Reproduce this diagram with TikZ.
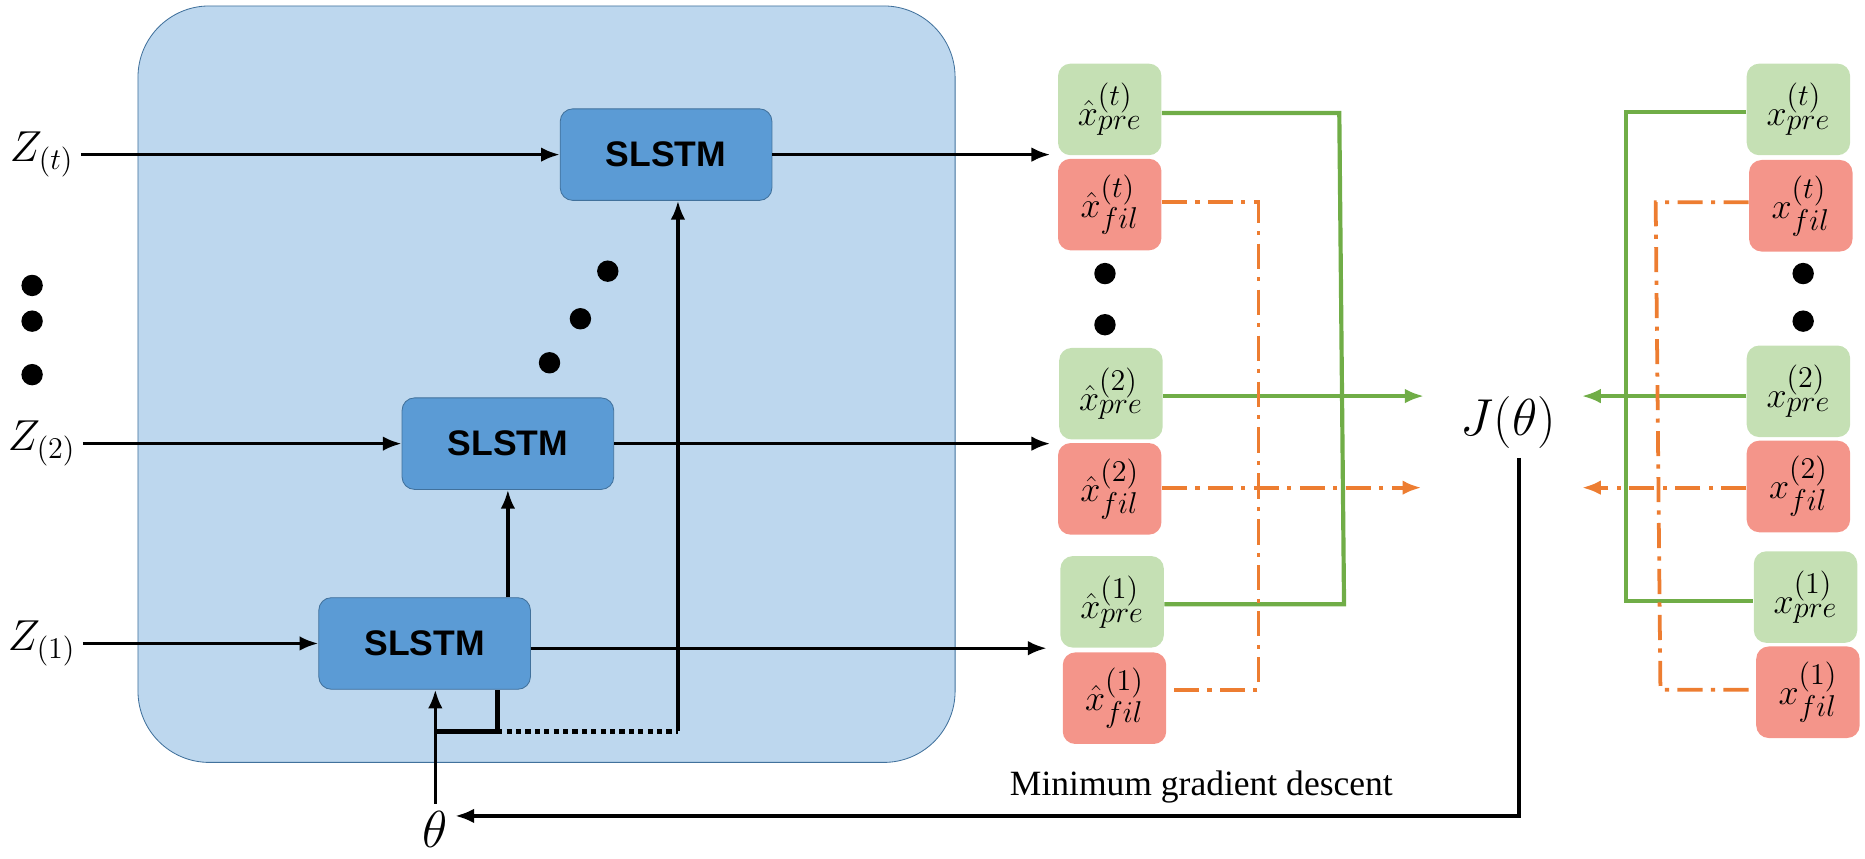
\documentclass[tikz,border=0pt]{standalone}
\usepackage{fontspec}
\newfontfamily\sansf{Liberation Sans}
\newfontfamily\seriff{Liberation Serif}
\usepackage{tikz}
\usetikzlibrary{arrows.meta}
\definecolor{boxfill}{HTML}{BDD7EE}
\definecolor{boxline}{HTML}{41719C}
\definecolor{cellfill}{HTML}{5B9BD5}
\definecolor{prefill}{HTML}{C5E0B4}
\definecolor{filfill}{HTML}{F4958A}
\definecolor{gline}{HTML}{70AD47}
\definecolor{oline}{HTML}{ED7D31}
\tikzset{
  cell/.style={draw=boxline,fill=cellfill,rounded corners=6pt,minimum width=3.56cm,minimum height=1.54cm,font=\sansf\fontsize{17}{20}\selectfont\bfseries},
  pre/.style={fill=prefill,rounded corners=6pt,minimum width=1.74cm,minimum height=1.54cm,inner sep=0pt,font=\fontsize{19}{22}\selectfont},
  fil/.style={pre,fill=filfill},
  lab/.style={font=\fontsize{20}{24}\selectfont},
  dot/.style={circle,fill=black,inner sep=0pt,minimum size=0.36cm},
  arr/.style={-{Latex[length=9pt,width=7pt]},line width=1.6pt},
  gr/.style={gline,line width=2pt},
  og/.style={oline,line width=1.8pt,dash pattern=on 12pt off 4pt on 2pt off 4pt},
}
\begin{document}
\begin{tikzpicture}[x=0.02cm,y=-0.02cm]
\useasboundingbox (0,0) rectangle (1568,722);
\draw[boxline,fill=boxfill,rounded corners=1.2cm] (116,5) rectangle (803,641);

% cells
\node[cell] (c3) at (560,130) {SLSTM};
\node[cell] (c2) at (427,373) {SLSTM};
\node[cell] (c1) at (357,541) {SLSTM};

% inputs
\node[lab] (z3) at (35,130) {$Z_{(t)}$};
\node[lab] (z2) at (35,373) {$Z_{(2)}$};
\node[lab] (z1) at (35,541) {$Z_{(1)}$};
\foreach \y in {240,270,315} \node[dot] at (27,\y) {};
\foreach \x/\y in {511/228,488/268,462/305} \node[dot] at (\x,\y) {};
\draw[arr] (z3.east) -- (c3.west);
\draw[arr] (z2.east) -- (c2.west);
\draw[arr] (z1.east) -- (c1.west);

% theta
\node[lab,font=\fontsize{26}{30}\selectfont] (th) at (366,697) {$\theta$};
\coordinate (tj) at (366,615);
\coordinate (tr) at (418,615);
\coordinate (td) at (570,615);
\draw[arr] (th.north) -- (c1.south -| tj);
\draw[line width=2.5pt] (tj) -- (tr) -- (tr |- c1.south);
\draw[line width=2.5pt,dotted] (tr) -- (td);
\draw[arr] (td) -- (c3.south -| td);
\draw[arr] (c1.north -| c2) -- (c2.south);

% outputs
\node[pre] (p3) at (933,92) {$\hat{x}^{(t)}_{pre}$};
\node[fil] (f3) at (933,172) {$\hat{x}^{(t)}_{fil}$};
\node[pre] (p2) at (934,331) {$\hat{x}^{(2)}_{pre}$};
\node[fil] (f2) at (933,411) {$\hat{x}^{(2)}_{fil}$};
\node[pre] (p1) at (935,506) {$\hat{x}^{(1)}_{pre}$};
\node[fil] (f1) at (937,587) {$\hat{x}^{(1)}_{fil}$};
\foreach \y in {230,273} \node[dot] at (929,\y) {};
\draw[arr] (c3.east) -- (883,130);
\draw[arr] (c2.east) -- (883,373);
\draw[arr] (c1.east |- 0,545) -- (880,545);

% targets
\node[pre] (q3) at (1512,92) {$x^{(t)}_{pre}$};
\node[fil] (g3) at (1514,173) {$x^{(t)}_{fil}$};
\node[pre] (q2) at (1512,329) {$x^{(2)}_{pre}$};
\node[fil] (g2) at (1512,409) {$x^{(2)}_{fil}$};
\node[pre] (q1) at (1518,502) {$x^{(1)}_{pre}$};
\node[fil] (g1) at (1520,582) {$x^{(1)}_{fil}$};
\foreach \y in {230,270} \node[dot] at (1516,\y) {};

% loss
\node[lab,font=\fontsize{24}{28}\selectfont] (j) at (1268,355) {$J(\theta)$};
\draw[gr] (p3.east |- 0,95) -- (1126,95) -- (1130,508) -- (p1.east |- 0,508);
\draw[gr,arr,gline] (p2.east |- 0,333) -- (1197,333);
\draw[og] (f3.east |- 0,170) -- (1058,170) -- (1058,580) -- (f1.east |- 0,580);
\draw[og,-{Latex[length=9pt,width=7pt]}] (f2.east |- 0,410) -- (1195,410);
\draw[gr] (q3.west |- 0,94) -- (1367,94) -- (1367,505) -- (q1.west |- 0,505);
\draw[gr,arr,gline] (q2.west |- 0,333) -- (1330,333);
\draw[og] (g3.west |- 0,170) -- (1392,170) -- (1396,580) -- (g1.west |- 0,580);
\draw[og,-{Latex[length=9pt,width=7pt]}] (g2.west |- 0,410) -- (1330,410);

% feedback
\node[font=\seriff\fontsize{17}{20}\selectfont] (md) at (1010,662) {Minimum gradient descent};
\draw[arr] (1277,385) -- (1277,686) -- (th.east |- 0,686);
\end{tikzpicture}
\end{document}
